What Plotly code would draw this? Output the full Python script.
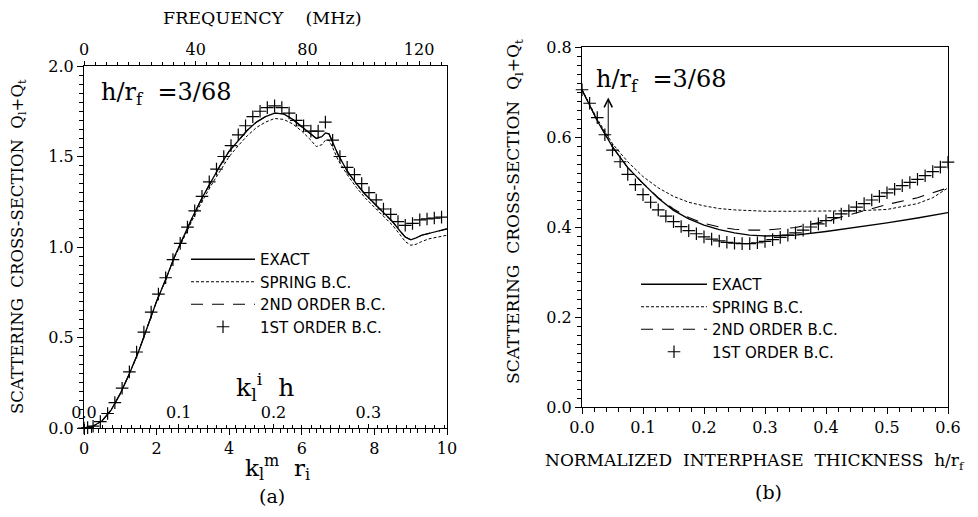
import plotly.graph_objects as go

# the page body adds an 8px margin; the figure fills the rest of the 978x517 window
OFF = 8
FW, FH = 978 - 2 * OFF, 517 - 2 * OFF

# ---------------- panel (a) data ----------------
kr_exact = [0, 0.25, 0.5, 0.75, 1.0, 1.25, 1.5, 1.75, 2.0, 2.25, 2.5, 2.75, 3.0, 3.25, 3.5, 3.75,
            4.0, 4.25, 4.5, 4.75, 5.0, 5.25, 5.5, 5.75, 6.0, 6.25, 6.4, 6.55, 6.65, 6.75, 6.85,
            7.0, 7.25, 7.5, 7.75, 8.0, 8.25, 8.5, 8.7, 8.85, 9.0, 9.15, 9.3, 9.5, 9.75, 10.0]
q_exact_a = [0.0, 0.01, 0.04, 0.10, 0.19, 0.30, 0.42, 0.56, 0.70, 0.82, 0.95, 1.06, 1.17, 1.27, 1.36, 1.45,
             1.53, 1.59, 1.645, 1.69, 1.72, 1.74, 1.735, 1.705, 1.665, 1.62, 1.60, 1.61, 1.63, 1.625, 1.58,
             1.51, 1.42, 1.35, 1.29, 1.24, 1.19, 1.14, 1.09, 1.055, 1.04, 1.05, 1.065, 1.075, 1.085, 1.10]
q_spring_a = [0.0, 0.01, 0.04, 0.10, 0.19, 0.30, 0.42, 0.56, 0.70, 0.82, 0.945, 1.05, 1.155, 1.25, 1.34, 1.42,
              1.50, 1.56, 1.615, 1.66, 1.69, 1.71, 1.705, 1.68, 1.64, 1.59, 1.555, 1.565, 1.59, 1.59, 1.55,
              1.48, 1.40, 1.33, 1.27, 1.22, 1.17, 1.12, 1.07, 1.03, 1.01, 1.015, 1.03, 1.045, 1.055, 1.065]
q_second_a = [0.0, 0.01, 0.04, 0.10, 0.19, 0.30, 0.42, 0.56, 0.70, 0.82, 0.95, 1.06, 1.17, 1.27, 1.36, 1.45,
              1.53, 1.59, 1.645, 1.69, 1.72, 1.74, 1.735, 1.705, 1.665, 1.62, 1.60, 1.61, 1.63, 1.625, 1.58,
              1.51, 1.42, 1.35, 1.29, 1.24, 1.19, 1.14, 1.09, 1.055, 1.04, 1.05, 1.065, 1.075, 1.085, 1.10]
kr_first = [0.0, 0.1, 0.25, 0.45, 0.65, 0.85, 1.05, 1.25, 1.45, 1.65, 1.85, 2.05, 2.25, 2.45, 2.65, 2.85,
            3.05, 3.25, 3.45, 3.65, 3.85, 4.05, 4.25, 4.45, 4.65, 4.85, 5.05, 5.25, 5.45, 5.65, 5.85,
            6.05, 6.25, 6.45, 6.65, 6.85, 7.05, 7.25, 7.45, 7.65, 7.85, 8.05, 8.25, 8.45, 8.65, 8.85,
            9.05, 9.25, 9.45, 9.65, 9.85]
q_first_a = [0.0, 0.002, 0.01, 0.035, 0.08, 0.14, 0.22, 0.31, 0.42, 0.53, 0.64, 0.74, 0.83, 0.93, 1.02, 1.11,
             1.20, 1.28, 1.36, 1.43, 1.50, 1.56, 1.62, 1.67, 1.72, 1.75, 1.77, 1.78, 1.77, 1.74, 1.70,
             1.67, 1.64, 1.64, 1.69, 1.59, 1.50, 1.44, 1.40, 1.35, 1.30, 1.26, 1.21, 1.18, 1.14, 1.12,
             1.13, 1.15, 1.155, 1.16, 1.165]

# axis scales of panel (a)
kr_ticks = [0, 2, 4, 6, 8, 10]
freq_range = [0, 130]          # MHz, top axis
freq_ticks = [0, 40, 80, 120]
kh_range = [0, 0.383]          # k_l^i h, inner axis
kh_ticks = [0.0, 0.1, 0.2, 0.3]

# ---------------- panel (b) data ----------------
h_exact = [0.0, 0.025, 0.05, 0.075, 0.1, 0.125, 0.15, 0.175, 0.2, 0.225, 0.25, 0.275, 0.3,
           0.35, 0.4, 0.45, 0.5, 0.55, 0.6]
q_exact_b = [0.705, 0.636, 0.578, 0.532, 0.497, 0.464, 0.437, 0.418, 0.404, 0.394, 0.387, 0.382, 0.380,
             0.382, 0.390, 0.399, 0.409, 0.420, 0.432]
h_spring = [0.0, 0.025, 0.05, 0.075, 0.1, 0.125, 0.15, 0.175, 0.2, 0.225, 0.25, 0.275, 0.3,
            0.35, 0.4, 0.45, 0.5, 0.55, 0.575, 0.6]
q_spring_b = [0.705, 0.640, 0.585, 0.545, 0.512, 0.487, 0.468, 0.455, 0.447, 0.441, 0.438, 0.436, 0.435,
              0.435, 0.435, 0.436, 0.439, 0.452, 0.465, 0.487]
h_second = [0.0, 0.025, 0.05, 0.075, 0.1, 0.125, 0.15, 0.175, 0.2, 0.225, 0.25, 0.275, 0.3,
            0.35, 0.4, 0.45, 0.5, 0.55, 0.6]
q_second_b = [0.705, 0.636, 0.578, 0.532, 0.497, 0.465, 0.440, 0.421, 0.408, 0.400, 0.395, 0.393, 0.393,
              0.399, 0.413, 0.432, 0.450, 0.465, 0.487]
h_first = [0.0, 0.0125, 0.025, 0.0375, 0.05, 0.0625, 0.075, 0.0875, 0.1, 0.1125, 0.125, 0.1375,
           0.15, 0.1625, 0.175, 0.1875, 0.2, 0.2125, 0.225, 0.2375, 0.25, 0.2625, 0.275, 0.2875,
           0.3, 0.3125, 0.325, 0.3375, 0.35, 0.3625, 0.375, 0.3875, 0.4, 0.4125, 0.425, 0.4375,
           0.45, 0.4625, 0.475, 0.4875, 0.5, 0.5125, 0.525, 0.5375, 0.55, 0.5625, 0.575, 0.5875, 0.6]
q_first_b = [0.705, 0.675, 0.643, 0.605, 0.571, 0.545, 0.517, 0.494, 0.472, 0.455, 0.438, 0.424,
             0.412, 0.401, 0.392, 0.385, 0.378, 0.373, 0.369, 0.366, 0.364, 0.363, 0.363, 0.365,
             0.368, 0.372, 0.377, 0.382, 0.387, 0.393, 0.400, 0.407, 0.414, 0.421, 0.429, 0.436,
             0.444, 0.452, 0.460, 0.468, 0.476, 0.484, 0.492, 0.499, 0.506, 0.514, 0.523, 0.533, 0.544]

series_names = ["EXACT", "SPRING B.C.", "2ND ORDER B.C.", "1ST ORDER B.C."]
label_a = "h/r<sub>f</sub>\u00a0\u00a0=3/68"
arrow_b = dict(x=0.043, y_from=0.593, y_to=0.688)


def px(x):
    return (x - OFF) / FW


def py(y):
    return 1 - (y - OFF) / FH


SERIF = "DejaVu Serif"
SANS = "DejaVu Sans"
BLK = "black"

line_exact = dict(color=BLK, width=1.3)
line_spring = dict(color=BLK, width=1.0, dash="3px,2px")
line_second = dict(color=BLK, width=1.1, dash="12px,9px")
mk_first = dict(symbol="cross-thin", size=9, color=BLK, line=dict(color=BLK, width=1.2))

fig = go.Figure()

# panel (a)
fig.add_trace(go.Scatter(x=kr_exact, y=q_exact_a, mode="lines", line=line_exact, name=series_names[0],
                         xaxis="x", yaxis="y", legend="legend"))
fig.add_trace(go.Scatter(x=kr_exact, y=q_spring_a, mode="lines", line=line_spring, name=series_names[1],
                         xaxis="x", yaxis="y", legend="legend"))
fig.add_trace(go.Scatter(x=kr_exact, y=q_second_a, mode="lines", line=line_second, name=series_names[2],
                         xaxis="x", yaxis="y", legend="legend"))
fig.add_trace(go.Scatter(x=kr_first, y=q_first_a, mode="markers", marker=mk_first, name=series_names[3],
                         xaxis="x", yaxis="y", legend="legend", cliponaxis=False))

# panel (b)
fig.add_trace(go.Scatter(x=h_exact, y=q_exact_b, mode="lines", line=line_exact, name=series_names[0],
                         xaxis="x2", yaxis="y2", legend="legend2"))
fig.add_trace(go.Scatter(x=h_spring, y=q_spring_b, mode="lines", line=line_spring, name=series_names[1],
                         xaxis="x2", yaxis="y2", legend="legend2"))
fig.add_trace(go.Scatter(x=h_second, y=q_second_b, mode="lines", line=line_second, name=series_names[2],
                         xaxis="x2", yaxis="y2", legend="legend2"))
fig.add_trace(go.Scatter(x=h_first, y=q_first_b, mode="markers", marker=mk_first, name=series_names[3],
                         xaxis="x2", yaxis="y2", legend="legend2", cliponaxis=False))

# empty traces that activate the extra scales of panel (a)
fig.add_trace(go.Scatter(x=[], y=[], xaxis="x3", yaxis="y", showlegend=False))
fig.add_trace(go.Scatter(x=[], y=[], xaxis="x4", yaxis="y", showlegend=False))

tickfont = dict(family=SERIF, size=16, color=BLK)
common = dict(showgrid=False, zeroline=False, showline=True, linecolor=BLK, linewidth=1,
              tickcolor=BLK, tickfont=tickfont, automargin=False, ticklen=6, tickwidth=1)

xa_dom = [px(84), px(447)]
ya_dom = [py(428), py(66)]
xb_dom = [px(582), px(948)]
yb_dom = [py(407), py(47)]

fig.update_layout(
    width=FW, height=FH,
    margin=dict(l=0, r=0, t=0, b=0),
    paper_bgcolor="white", plot_bgcolor="white",
    xaxis=dict(domain=xa_dom, range=[0, 10], anchor="y", tickmode="array", tickvals=kr_ticks,
               ticks="outside", minor=dict(dtick=0.2, ticks="outside", ticklen=4, tickcolor=BLK),
               **common),
    yaxis=dict(domain=ya_dom, range=[0, 2], anchor="x", dtick=0.5, tick0=0, tickformat=".1f",
               ticks="outside", mirror=True,
               minor=dict(dtick=0.05, ticks="outside", ticklen=4, tickcolor=BLK), **common),
    xaxis3=dict(overlaying="x", side="top", anchor="y", range=freq_range, tickmode="array",
                tickvals=freq_ticks, ticks="outside",
                minor=dict(dtick=4, ticks="outside", ticklen=3, tickcolor=BLK),
                **{**common, "ticklen": 4}),
    xaxis4=dict(overlaying="x", side="top", anchor="free", position=ya_dom[0], range=kh_range,
                tickmode="array", tickvals=kh_ticks, tickformat=".1f", ticks="outside",
                showgrid=False, zeroline=False, showline=False, tickcolor=BLK, tickfont=tickfont,
                automargin=False, ticklen=4, tickwidth=1,
                minor=dict(dtick=0.01, ticks="outside", ticklen=3, tickcolor=BLK)),
    xaxis2=dict(domain=xb_dom, range=[0, 0.6], anchor="y2", dtick=0.1, tick0=0, tickformat=".1f",
                ticks="outside", mirror=True,
                minor=dict(dtick=0.02, ticks="outside", ticklen=4, tickcolor=BLK), **common),
    yaxis2=dict(domain=yb_dom, range=[0, 0.8], anchor="x2", dtick=0.2, tick0=0, tickformat=".1f",
                ticks="outside", mirror=True,
                minor=dict(dtick=0.02, ticks="outside", ticklen=4, tickcolor=BLK), **common),
    legend=dict(x=px(186), y=py(243), xanchor="left", yanchor="top", bgcolor="rgba(0,0,0,0)",
                font=dict(family=SANS, size=15, color=BLK), itemwidth=64, tracegroupgap=0),
    legend2=dict(x=px(636), y=py(268), xanchor="left", yanchor="top", bgcolor="rgba(0,0,0,0)",
                 font=dict(family=SANS, size=15, color=BLK), itemwidth=66, tracegroupgap=0),
    showlegend=True,
)

ytitle = "SCATTERING\u00a0\u00a0CROSS-SECTION\u00a0\u00a0Q<sub>l</sub>+Q<sub>t</sub>"
ann = [
    dict(text="FREQUENCY\u00a0\u00a0\u00a0\u00a0(MHz)", x=px(262), y=py(18), font=dict(family=SERIF, size=17.5)),
    dict(text=ytitle, x=px(19), y=py(247), textangle=-90, font=dict(family=SERIF, size=16.5)),
    dict(text=label_a, x=px(99), y=py(94), xanchor="left", font=dict(family=SERIF, size=24)),
    dict(text="k<sub>l</sub><sup>i</sup>\u00a0\u00a0h", x=px(265), y=py(387), font=dict(family=SERIF, size=25)),
    dict(text="k<sub>l</sub><sup>m</sup>\u00a0\u00a0r<sub>i</sub>", x=px(277), y=py(467),
         font=dict(family=SERIF, size=23)),
    dict(text="(a)", x=px(272), y=py(496), font=dict(family=SERIF, size=19)),
    dict(text=ytitle, x=px(514), y=py(212), textangle=-90, font=dict(family=SERIF, size=17)),
    dict(text=label_a, x=px(594), y=py(80), xanchor="left", font=dict(family=SERIF, size=24)),
    dict(text="NORMALIZED\u00a0\u00a0INTERPHASE\u00a0\u00a0THICKNESS\u00a0\u00a0h/r<sub>f</sub>",
         x=px(755), y=py(461), font=dict(family=SERIF, size=17)),
    dict(text="(b)", x=px(768), y=py(492), font=dict(family=SERIF, size=19)),
]
for a in ann:
    a.setdefault("xref", "paper")
    a.setdefault("yref", "paper")
    a.setdefault("xanchor", "center")
    a.setdefault("yanchor", "middle")
    a.setdefault("showarrow", False)
    a["font"]["color"] = BLK
    fig.add_annotation(**a)

fig.add_annotation(x=arrow_b["x"], y=arrow_b["y_to"], ax=arrow_b["x"], ay=arrow_b["y_from"],
                   xref="x2", yref="y2", axref="x2", ayref="y2", text="", showarrow=True,
                   arrowhead=5, arrowsize=1.6, arrowwidth=1, arrowcolor=BLK)

fig.write_html("out.html")
